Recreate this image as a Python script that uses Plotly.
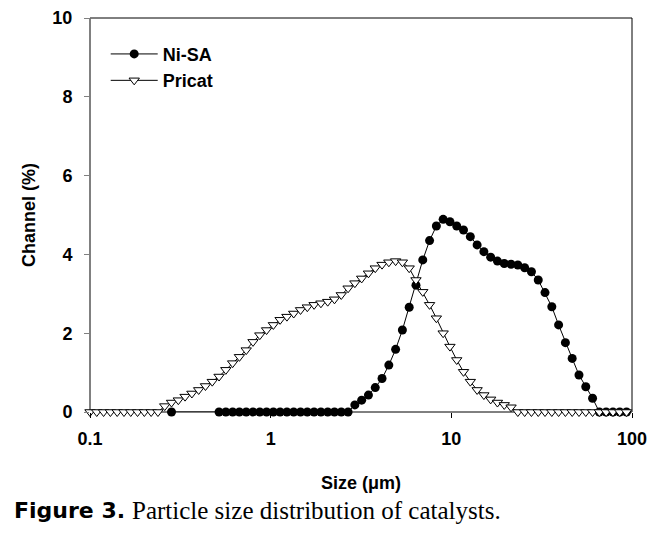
import plotly.graph_objects as go

# Channel sizes (µm), log-spaced
size_um = [0.1000, 0.1090, 0.1189, 0.1297, 0.1414, 0.1542, 0.1681, 0.1833, 0.1999, 0.2180,
           0.2377, 0.2592, 0.2826, 0.3082, 0.3360, 0.3664, 0.3995, 0.4356, 0.4750, 0.5180,
           0.5648, 0.6159, 0.6714, 0.7322, 0.7984, 0.8706, 0.9491, 1.035, 1.128, 1.230,
           1.341, 1.463, 1.595, 1.739, 1.897, 2.069, 2.255, 2.459, 2.682, 2.924,
           3.189, 3.477, 3.792, 4.135, 4.508, 4.916, 5.359, 5.845, 6.373, 6.949,
           7.578, 8.263, 9.010, 9.824, 10.71, 11.68, 12.74, 13.89, 15.14, 16.51,
           18.00, 19.63, 21.41, 23.34, 25.46, 27.76, 30.27, 33.00, 35.99, 39.24,
           42.79, 46.66, 50.88, 55.48, 60.50, 65.97, 71.92, 78.43, 85.52, 93.25]

N = None
ni_sa = [N, N, N, N, N, N, N, N, N, N,
         N, N, 0, N, N, N, N, N, N, 0,
         0, 0, 0, 0, 0, 0, 0, 0, 0, 0,
         0, 0, 0, 0, 0, 0, 0, 0, 0, 0.18,
         0.30, 0.43, 0.62, 0.85, 1.19, 1.59, 2.08, 2.66, 3.22, 3.86,
         4.35, 4.72, 4.89, 4.83, 4.72, 4.62, 4.45, 4.24, 4.07, 3.93,
         3.83, 3.77, 3.75, 3.73, 3.66, 3.56, 3.35, 3.03, 2.67, 2.21,
         1.76, 1.36, 0.94, 0.64, 0.35, 0, 0, 0, 0, 0]

pricat = [0, 0, 0, 0, 0, 0, 0, 0, 0, 0,
          0, 0.15, 0.24, 0.30, 0.39, 0.47, 0.56, 0.66, 0.77, 0.90,
          1.07, 1.24, 1.40, 1.57, 1.78, 1.95, 2.08, 2.21, 2.34, 2.42,
          2.50, 2.59, 2.66, 2.72, 2.76, 2.80, 2.86, 2.97, 3.14, 3.27,
          3.39, 3.52, 3.65, 3.74, 3.80, 3.83, 3.80, 3.65, 3.35, 3.05,
          2.72, 2.38, 2.00, 1.66, 1.32, 1.02, 0.77, 0.56, 0.43, 0.32,
          0.24, 0.18, 0.12, 0, 0, 0, 0, 0, 0, 0,
          0, 0, 0, 0, 0, 0, 0, 0, 0, 0]

x_ticks = [0.1, 1, 10, 100]
x_tick_labels = ["0.1", "1", "10", "100"]
y_ticks = [0, 2, 4, 6, 8, 10]

fig = go.Figure()
fig.add_trace(go.Scatter(
    x=size_um, y=ni_sa, name="Ni-SA", mode="lines+markers", connectgaps=True,
    line=dict(color="black", width=1),
    marker=dict(symbol="circle", size=9, color="black"),
    cliponaxis=False,
))
fig.add_trace(go.Scatter(
    x=size_um, y=pricat, name="Pricat", mode="lines+markers",
    line=dict(color="black", width=1),
    marker=dict(symbol="triangle-down", size=9, color="white",
                line=dict(color="black", width=1)),
    cliponaxis=False,
))

SANS = "Liberation Sans, Arial, sans-serif"
bold18 = dict(family=SANS, size=18, color="black", weight="bold")

# the page body adds an 8px offset, so the figure is sized to fit the window
fig.update_layout(
    width=660, height=526,
    margin=dict(l=82, r=36, t=10, b=122, autoexpand=False),
    paper_bgcolor="white", plot_bgcolor="white",
    showlegend=True,
    legend=dict(x=0.029, y=0.955, xanchor="left", yanchor="top",
                font=bold18, bgcolor="rgba(0,0,0,0)", itemwidth=47, tracegroupgap=0),
    xaxis=dict(
        type="log", range=[-1, 2], tickvals=x_ticks, ticktext=x_tick_labels,
        showgrid=False, zeroline=False, showline=False, automargin=False,
        ticks="outside", ticklen=5, tickcolor="black", ticklabelstandoff=5,
        tickfont=bold18,
        title=dict(text="<b>Size (μm)</b>", font=bold18, standoff=28),
    ),
    yaxis=dict(
        range=[0, 10], tickvals=y_ticks,
        showgrid=False, zeroline=False, showline=False, automargin=False,
        ticks="outside", ticklen=5, tickcolor="#808080", ticklabelstandoff=8,
        tickfont=bold18,
        title=dict(text="<b>Channel (%)</b>", font=bold18, standoff=12),
    ),
)

# frame
fig.add_shape(type="rect", xref="paper", yref="paper", x0=0, y0=0, x1=1, y1=1,
              line=dict(color="black", width=1), layer="below")
fig.add_shape(type="line", xref="paper", yref="paper", x0=0, y0=0, x1=0, y1=1,
              line=dict(color="#808080", width=1.5), layer="below")

# caption
fig.add_annotation(text="<b>Figure 3.</b>", xref="paper", yref="paper",
                   x=-0.144, y=-0.249, xanchor="left", yanchor="middle", showarrow=False,
                   font=dict(family="DejaVu Sans", size=22, color="black"))
fig.add_annotation(text="Particle size distribution of catalysts.", xref="paper", yref="paper",
                   x=0.074, y=-0.249, xanchor="left", yanchor="middle", showarrow=False,
                   font=dict(family="Liberation Serif, Times New Roman, serif", size=25, color="black"))

fig.write_html("out.html")
